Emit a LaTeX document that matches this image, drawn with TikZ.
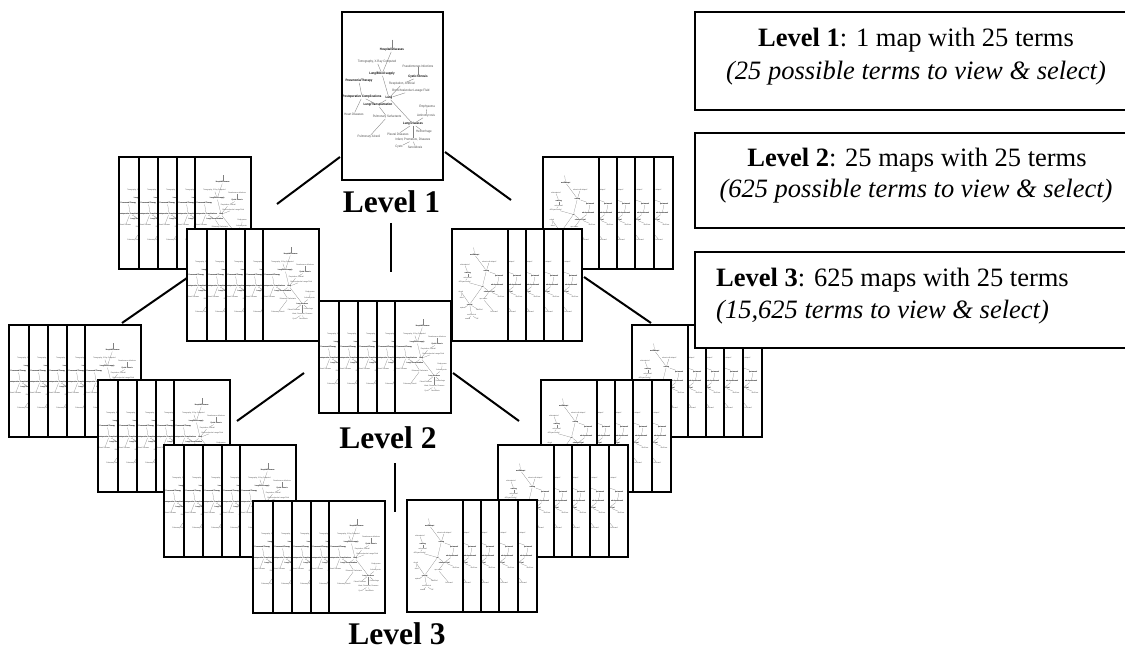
\documentclass[tikz,border=0pt]{standalone}
\usepackage{fontspec}
\setmainfont{Liberation Serif}
\newfontfamily\mapfont[FakeStretch=0.85]{Liberation Sans}

\def\mapfs{1.9}
\def\mapsw{0.2}
\tikzset{
  mt/.style={font=\mapfont\fontsize{\mapfs}{\mapfs}\selectfont, text=black!70, inner sep=0.15pt},
  mb/.style={font=\mapfont\bfseries\fontsize{\mapfs}{\mapfs}\selectfont, text=black, inner sep=0.15pt},
  ml/.style={draw=black!50, line width=\mapsw pt},
  mapframe/.style={fill=white, draw=none, inner sep=0pt, outer sep=0pt, anchor=north west},
  mapborder/.style={draw=black, line width=2.2pt},
  connector/.style={draw=black, line width=2pt},
  lvl/.style={font=\fontsize{31.5}{32}\selectfont\bfseries, anchor=base, inner sep=0pt},
  textbox/.style={draw=black, fill=white, line width=1.8pt, inner sep=0pt},
  boxtext/.style={font=\fontsize{26.5}{30}\selectfont, inner sep=0pt}
}

% content A (medical terms map), normalized coordinates
\newcommand\contentA[1]{%
  \coordinate (#1-stem) at (0.495,0.165);
  \node[mb] (#1-hosp) at (0.495,0.226) {Hospital/Diseases};
  \node[mt] (#1-tomo) at (0.347,0.298) {Tomography, X-Ray Computed};
  \node[mt] (#1-pseu) at (0.752,0.321) {Pseudomonas Infections};
  \node[mb] (#1-lblo) at (0.396,0.369) {Lung/Blood supply};
  \node[mb] (#1-cyst) at (0.752,0.387) {Cystic fibrosis};
  \node[mt] (#1-resp) at (0.594,0.429) {Respiration, Artificial};
  \node[mb] (#1-pneu) at (0.168,0.411) {Pneumonia/Therapy};
  \node[mt] (#1-bron) at (0.683,0.470) {Bronchoalveolar Lavage Fluid};
  \node[mb] (#1-lung) at (0.465,0.512) {Lung};
  \node[mb] (#1-pasp) at (0.198,0.506) {Postoperative Complications};
  \node[mb] (#1-ltra) at (0.356,0.554) {Lung/Transplantation};
  \node[mt] (#1-hear) at (0.119,0.607) {Heart Diseases};
  \node[mt] (#1-emph) at (0.842,0.565) {Emphysema};
  \node[mt] (#1-acti) at (0.832,0.619) {Actinomycosis};
  \node[mt] (#1-psur) at (0.446,0.625) {Pulmonary Surfactants};
  \node[mb] (#1-ldis) at (0.703,0.667) {Lung Diseases};
  \node[mt] (#1-hemo) at (0.812,0.714) {Hemorrhage};
  \node[mt] (#1-pleu) at (0.554,0.726) {Pleural Diseases};
  \node[mt] (#1-palv) at (0.267,0.744) {Pulmonary Alveoli};
  \node[mt] (#1-infa) at (0.703,0.762) {Infant, Premature, Diseases};
  \node[mt] (#1-cysts) at (0.564,0.804) {Cysts};
  \node[mt] (#1-sarc) at (0.723,0.804) {Sarcoidosis};
  \draw[ml] (#1-stem) -- (#1-hosp);
  \draw[ml] (#1-hosp) -- (#1-lblo);
  \draw[ml] (#1-tomo) -- (#1-lblo);
  \draw[ml] (#1-lblo) -- (#1-lung);
  \draw[ml] (#1-pseu) -- (#1-cyst);
  \draw[ml] (#1-cyst) -- (#1-resp);
  \draw[ml] (#1-resp) -- (#1-lung);
  \draw[ml] (#1-bron) -- (#1-lung);
  \draw[ml] (#1-pneu) -- (#1-pasp);
  \draw[ml] (#1-pasp) -- (#1-hear);
  \draw[ml] (#1-pasp) -- (#1-ltra);
  \draw[ml] (#1-ltra) -- (#1-lung);
  \draw[ml] (#1-ltra) -- (#1-psur);
  \draw[ml] (#1-psur) -- (#1-palv);
  \draw[ml] (#1-lung) -- (#1-ldis);
  \draw[ml] (#1-emph) -- (#1-acti);
  \draw[ml] (#1-acti) -- (#1-ldis);
  \draw[ml] (#1-ldis) -- (#1-hemo);
  \draw[ml] (#1-ldis) -- (#1-pleu);
  \draw[ml] (#1-ldis) -- (#1-infa);
  \draw[ml] (#1-infa) -- (#1-cysts);
  \draw[ml] (#1-infa) -- (#1-sarc);
}

% content B (second map)
\newcommand\contentB[1]{%
  \coordinate (#1-stem) at (0.386,0.165);
  \node[mb] (#1-b1) at (0.404,0.230) {noelBakapri};
  \node[mt] (#1-b2) at (0.667,0.292) {abscnt-vaft-aitaporf};
  \node[mt] (#1-b3) at (0.228,0.319) {colsinnatsiurf};
  \node[mb] (#1-b4) at (0.614,0.372) {oxdilag};
  \node[mb] (#1-b5) at (0.281,0.389) {sadiriag};
  \node[mb] (#1-b6) at (0.842,0.416) {pat-wasarf};
  \node[mt] (#1-b7) at (0.281,0.434) {sokc-asaurf};
  \node[mt] (#1-b8) at (0.228,0.469) {diPhyacceicelml};
  \node[mb] (#1-b9) at (0.544,0.513) {ral};
  \node[mb] (#1-b10) at (0.807,0.504) {ub-dupw/asaurf};
  \node[mb] (#1-b11) at (0.667,0.558) {vdvdazdf Deal};
  \node[mt] (#1-b12) at (0.877,0.602) {raxiCaen};
  \node[mt] (#1-b13) at (0.158,0.558) {srhaal};
  \node[mt] (#1-b14) at (0.175,0.611) {sksrrf};
  \node[mt] (#1-b15) at (0.561,0.628) {ropc-aaaur};
  \node[mb] (#1-b16) at (0.316,0.673) {saofsat};
  \node[mt] (#1-b17) at (0.193,0.708) {aptesal};
  \node[mt] (#1-b18) at (0.491,0.726) {rowtlDurf};
  \node[mt] (#1-b19) at (0.754,0.743) {bel-ecaurf};
  \node[mt] (#1-b20) at (0.351,0.770) {rowClaerLwt};
  \node[mt] (#1-b21) at (0.281,0.805) {caaatal};
  \node[mt] (#1-b22) at (0.456,0.805) {fkf};
  \draw[ml] (#1-stem) -- (#1-b1);
  \draw[ml] (#1-b1) -- (#1-b4);
  \draw[ml] (#1-b2) -- (#1-b4);
  \draw[ml] (#1-b3) -- (#1-b5);
  \draw[ml] (#1-b5) -- (#1-b7);
  \draw[ml] (#1-b7) -- (#1-b8);
  \draw[ml] (#1-b8) -- (#1-b9);
  \draw[ml] (#1-b4) -- (#1-b9);
  \draw[ml] (#1-b4) -- (#1-b6);
  \draw[ml] (#1-b6) -- (#1-b10);
  \draw[ml] (#1-b10) -- (#1-b11);
  \draw[ml] (#1-b9) -- (#1-b11);
  \draw[ml] (#1-b11) -- (#1-b12);
  \draw[ml] (#1-b9) -- (#1-b16);
  \draw[ml] (#1-b13) -- (#1-b16);
  \draw[ml] (#1-b13) -- (#1-b14);
  \draw[ml] (#1-b16) -- (#1-b17);
  \draw[ml] (#1-b16) -- (#1-b18);
  \draw[ml] (#1-b16) -- (#1-b20);
  \draw[ml] (#1-b20) -- (#1-b21);
  \draw[ml] (#1-b20) -- (#1-b22);
  \draw[ml] (#1-b11) -- (#1-b15);
  \draw[ml] (#1-b15) -- (#1-b19);
}

% one map: #1 name, #2 x, #3 y, #4 w, #5 h, #6 content macro
\newcommand\mapat[6]{%
  \begin{scope}[shift={(#2,#3)}]
    \node[mapframe, minimum width=#4pt, minimum height=#5pt] (#1) at (0,0) {};
    \begin{scope}
      \clip (0,0) rectangle (#4,#5);
      \begin{scope}[x=#4pt, y=-#5pt]
        #6{#1}
      \end{scope}
    \end{scope}
    \draw[mapborder] (#1.north west) rectangle (#1.south east);
  \end{scope}%
}

% stack facing left (front map at right): #1 name, #2 x0, #3 y0
\newcommand\leftstack[3]{%
  \foreach \o [count=\i] in {0,20,39,58,76} {\mapat{#1m\i}{#2+\o}{#3}{56}{112}{\contentA}}%
}
% stack facing right (front map at left)
\newcommand\rightstack[3]{%
  \foreach \o [count=\i] in {74,55,36,18,0} {\mapat{#1m\i}{#2+\o}{#3}{56}{112}{\contentB}}%
}

\begin{document}
\begin{tikzpicture}[x=1pt,y=-1pt]
\useasboundingbox[fill=white] (0,0) rectangle (1125,647);

% Level 1 map
\def\mapfs{3.3}\def\mapsw{0.35}
\mapat{L1}{342}{12}{101}{168}{\contentA}
\def\mapfs{1.9}\def\mapsw{0.2}

\node[lvl] (lvl1) at (391.5,213) {Level 1};

% connectors from level 1
\coordinate (c1a) at (277,204); \coordinate (c1b) at (340,157);
\coordinate (c2a) at (445,152); \coordinate (c2b) at (511,200);
\coordinate (c3a) at (391,223); \coordinate (c3b) at (391,272);
\draw[connector] (c1a) -- (c1b);
\draw[connector] (c2a) -- (c2b);
\draw[connector] (c3a) -- (c3b);

% Level 2 stacks
\leftstack{L2a}{119}{157}
\leftstack{L2b}{187}{229}
\rightstack{R2a}{543}{157}
\rightstack{R2b}{452}{229}
\leftstack{L2c}{319}{301}

\node[lvl] (lvl2) at (388,448) {Level 2};

% connectors to level 3
\coordinate (c4a) at (122,323); \coordinate (c4b) at (187,278);
\coordinate (c5a) at (237,421); \coordinate (c5b) at (304,373);
\coordinate (c6a) at (453,373); \coordinate (c6b) at (519,421);
\coordinate (c7a) at (395,463); \coordinate (c7b) at (395,512);
\coordinate (c8a) at (584,277); \coordinate (c8b) at (651,323);
\draw[connector] (c4a) -- (c4b);
\draw[connector] (c5a) -- (c5b);
\draw[connector] (c6a) -- (c6b);
\draw[connector] (c7a) -- (c7b);
\draw[connector] (c8a) -- (c8b);

% Level 3 stacks
\leftstack{L3a}{9}{325}
\leftstack{L3b}{98}{380}
\leftstack{L3c}{164}{445}
\leftstack{L3d}{253}{501}
\rightstack{R3a}{632}{325}
\rightstack{R3b}{541}{380}
\rightstack{R3c}{498}{445}
\rightstack{R3d}{407}{500}

\node[lvl] (lvl3) at (397,644) {Level 3};

% text boxes
\node[textbox, minimum width=444pt, minimum height=98pt] (box1) at (917,61) {};
\node[textbox, minimum width=444pt, minimum height=95pt] (box2) at (917,180.5) {};
\node[textbox, minimum width=444pt, minimum height=96pt] (box3) at (917,300) {};
\node[boxtext, anchor=base] (t1a) at (916,47) {\textbf{Level 1}: 1 map with 25 terms};
\node[boxtext, anchor=base] (t1b) at (916,80) {\textit{(25 possible terms to view \& select)}};
\node[boxtext, anchor=base] (t2a) at (917,167) {\textbf{Level 2}: 25 maps with 25 terms};
\node[boxtext, anchor=base] (t2b) at (916,198) {\textit{(625 possible terms to view \& select)}};
\node[boxtext, anchor=base west] (t3a) at (716,287) {\textbf{Level 3}: 625 maps with 25 terms};
\node[boxtext, anchor=base west] (t3b) at (716,318) {\textit{(15,625 terms to view \& select)}};
\end{tikzpicture}
\end{document}
